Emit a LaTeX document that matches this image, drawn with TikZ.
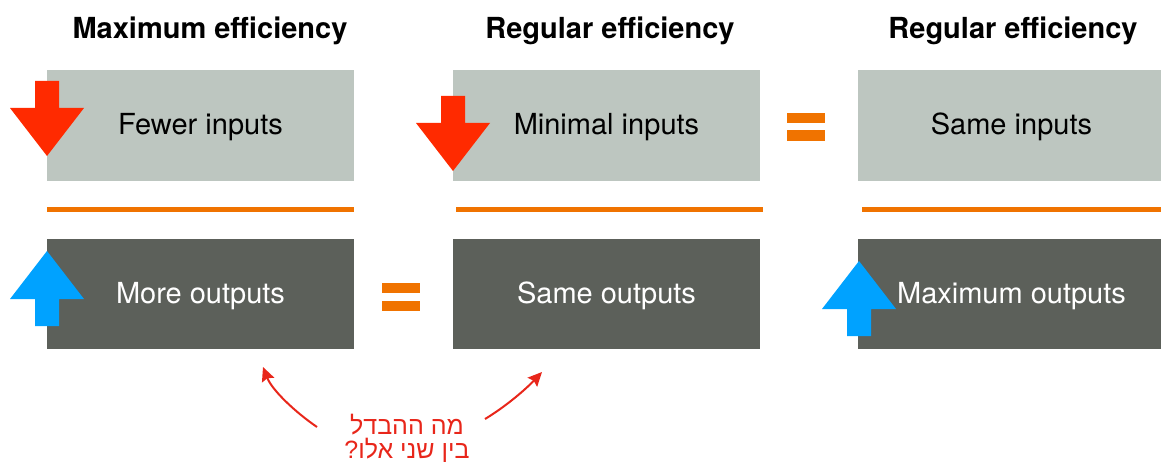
\documentclass[tikz,border=0pt]{standalone}
\usepackage{fontspec}
\setmainfont{TeX Gyre Heros}
\newfontfamily\hebfont[Script=Hebrew]{Liberation Sans}
\TeXXeTstate=1
\usetikzlibrary{arrows.meta}
\definecolor{inbox}{RGB}{189,198,192}
\definecolor{outbox}{RGB}{92,96,90}
\definecolor{barorange}{RGB}{240,115,0}
\definecolor{downred}{RGB}{255,42,0}
\definecolor{upblue}{RGB}{0,162,255}
\definecolor{notered}{RGB}{232,38,26}
\tikzset{
  panel/.style={minimum width=307pt, inner sep=0pt,
    font=\fontsize{29}{34}\selectfont, text height=21pt, text depth=2pt},
  inpanel/.style={panel, fill=inbox, minimum height=111pt, text=black},
  outpanel/.style={panel, fill=outbox, minimum height=110pt, text=white},
  heading/.style={anchor=base, font=\fontsize{29}{34}\selectfont\bfseries},
  divider/.style={draw=barorange, line width=5pt},
  equalbar/.style={fill=barorange},
  pointer/.style={draw=notered, line width=2pt,
    -{Stealth[length=14pt,width=13pt,inset=2pt]}},
  dnarrow/.pic={
    \path[pic actions] (0,0) -- (-37,-48) -- (-12,-48) -- (-12,-75)
      -- (12,-75) -- (12,-48) -- (37,-48) -- cycle;
  },
}
\begin{document}
\begin{tikzpicture}[x=1pt,y=-1pt]
\useasboundingbox (0,0) rectangle (1161,462);

% column headings
\node[heading] (h1) at (210,39) {Maximum efficiency};
\node[heading] (h2) at (610,39) {Regular efficiency};
\node[heading] (h3) at (1013,39) {Regular efficiency};

% input panels
\node[inpanel] (i1) at (200.5,125.5) {Fewer inputs};
\node[inpanel] (i2) at (606.5,125.5) {Minimal inputs};
\node[inpanel] (i3) at (1011.5,125.5) {Same inputs};

% fraction bars
\draw[divider] (47,209.5) -- (354,209.5);
\draw[divider] (456,209.5) -- (763,209.5);
\draw[divider] (862,209.5) -- (1169,209.5);

% output panels
\node[outpanel] (o1) at (200.5,294) {More outputs};
\node[outpanel] (o2) at (606.5,294) {Same outputs};
\node[outpanel] (o3) at (1011.5,294) {Maximum outputs};

% equality signs
\fill[equalbar] (382,283) rectangle (420,293);
\fill[equalbar] (382,301) rectangle (420,311);
\fill[equalbar] (787,113) rectangle (825,123);
\fill[equalbar] (787,130) rectangle (825,141);

% trend arrows
\pic[fill=downred] at (47,156) {dnarrow};
\pic[fill=downred] at (453,171) {dnarrow};
\pic[fill=upblue, yscale=-1] at (47,251) {dnarrow};
\pic[fill=upblue, yscale=-1] at (859,261) {dnarrow};

% question
\node[text=notered, align=center, font=\hebfont\fontsize{25}{24}\selectfont]
  (q) at (407,439) {\beginR מה ההבדל\endR\\\beginR בין שני אלו?\endR};

\coordinate (l0) at (317,427);
\coordinate (l1) at (263,367);
\coordinate (r0) at (485,419);
\coordinate (r1) at (542,372);
\draw[pointer] (l0) .. controls (295,412) and (272,390) .. (l1);
\draw[pointer] (r0) .. controls (505,407) and (525,390) .. (r1);
\end{tikzpicture}
\end{document}
